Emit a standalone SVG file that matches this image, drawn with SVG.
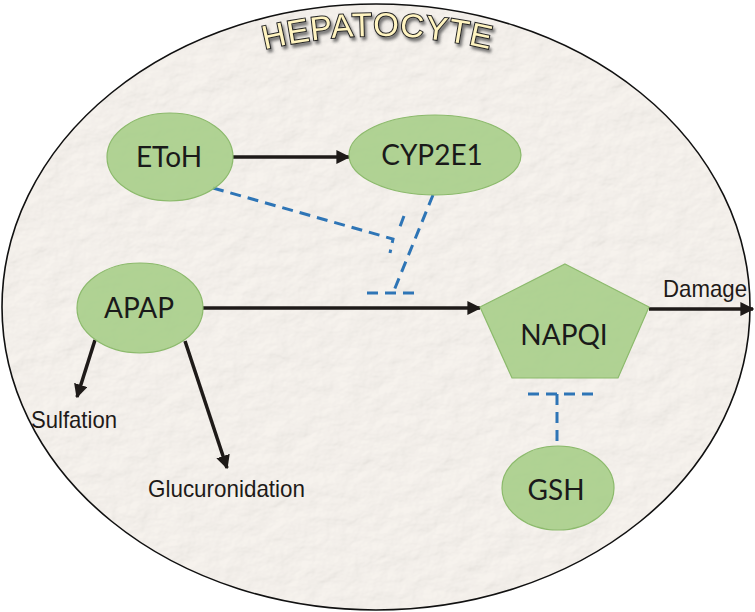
<svg xmlns="http://www.w3.org/2000/svg" width="755" height="612" viewBox="0 0 755 612">
<defs>
<filter id="paper" x="0" y="0" width="100%" height="100%">
<feTurbulence type="fractalNoise" baseFrequency="0.035 0.05" numOctaves="4" seed="7" result="n"/>
<feDiffuseLighting in="n" surfaceScale="1.6" lighting-color="#fcf8f3" result="l">
<feDistantLight azimuth="225" elevation="70"/>
</feDiffuseLighting>
<feComposite in="l" in2="SourceGraphic" operator="in"/>
</filter>
<filter id="shadow" x="-20%" y="-50%" width="140%" height="200%">
<feDropShadow dx="2" dy="3" stdDeviation="1.5" flood-color="#555" flood-opacity="0.8"/>
</filter>
<marker id="arrow" viewBox="0 0 10 10" refX="9" refY="5" markerWidth="4" markerHeight="4" orient="auto" markerUnits="strokeWidth">
<path d="M0,0 L10,5 L0,10 z" fill="#1e1a18"/>
</marker>
<path id="arc" d="M 240,56 Q 377,16 515,56"/>
</defs>
<style>
.node{fill:#a3cc84;fill-opacity:0.85;stroke:#8cba6c;stroke-width:1.2}
.lbl{font-family:Lato,"Liberation Sans",sans-serif;font-size:28px;fill:#1a1a1a;text-anchor:middle}
.side{font-family:"Liberation Sans",Arial,sans-serif;font-size:24px;fill:#1e1a18}
.arr{stroke:#1e1a18;stroke-width:3.5;fill:none;marker-end:url(#arrow)}
.inh{stroke:#2e75b6;stroke-width:3;fill:none;stroke-dasharray:11 7}
.title{font-family:"Liberation Sans",Arial,sans-serif;font-size:33px;fill:#fff4c0;stroke:#222;stroke-width:2;letter-spacing:1px;paint-order:stroke}
</style>
<g id="cell">
<ellipse cx="376" cy="307" rx="374" ry="303" fill="#efebe6"/>
<ellipse cx="376" cy="307" rx="374" ry="303" fill="#000" filter="url(#paper)" opacity="0.7"/>
<ellipse cx="376" cy="307" rx="374" ry="303" fill="none" stroke="#111" stroke-width="1.6"/>
</g>
<g id="title" filter="url(#shadow)">
<text class="title"><textPath href="#arc" startOffset="50%" text-anchor="middle">HEPATOCYTE</textPath></text>
</g>
<g id="connectors">
<line class="arr" x1="233" y1="157" x2="349" y2="157"/>
<line class="arr" x1="203" y1="308" x2="480" y2="308"/>
<line class="arr" x1="649" y1="309" x2="753" y2="309"/>
<line class="arr" x1="95" y1="340" x2="77" y2="397"/>
<line class="arr" x1="185" y1="341" x2="227" y2="468"/>
<path class="inh" d="M213,188 L393,239 L390,253"/>
<path class="inh" d="M404,216 L398,232"/>
<path class="inh" d="M433,195 L393,293"/>
<path class="inh" d="M367,293 L417,293"/>
<path class="inh" d="M528,394 L598,394"/>
<path class="inh" d="M557,394 L557,447"/>
</g>
<g id="etoh">
<ellipse class="node" cx="170" cy="157" rx="63" ry="44"/>
<text class="lbl" x="169" y="167">EToH</text>
</g>
<g id="cyp2e1">
<ellipse class="node" cx="435" cy="155" rx="86" ry="40"/>
<text class="lbl" x="432" y="165">CYP2E1</text>
</g>
<g id="apap">
<ellipse class="node" cx="140" cy="308" rx="63" ry="45"/>
<text class="lbl" x="139" y="318">APAP</text>
</g>
<g id="napqi">
<polygon class="node" points="565,264 649,307 618,378 512,378 480,307"/>
<text class="lbl" x="564" y="345">NAPQI</text>
</g>
<g id="gsh">
<ellipse class="node" cx="558" cy="488" rx="56" ry="42"/>
<text class="lbl" x="556" y="500">GSH</text>
</g>
<g id="labels">
<text class="side" x="31" y="428" textLength="86" lengthAdjust="spacingAndGlyphs">Sulfation</text>
<text class="side" x="148" y="497" textLength="157" lengthAdjust="spacingAndGlyphs">Glucuronidation</text>
<text class="side" x="663" y="297" textLength="84" lengthAdjust="spacingAndGlyphs">Damage</text>
</g>
</svg>
